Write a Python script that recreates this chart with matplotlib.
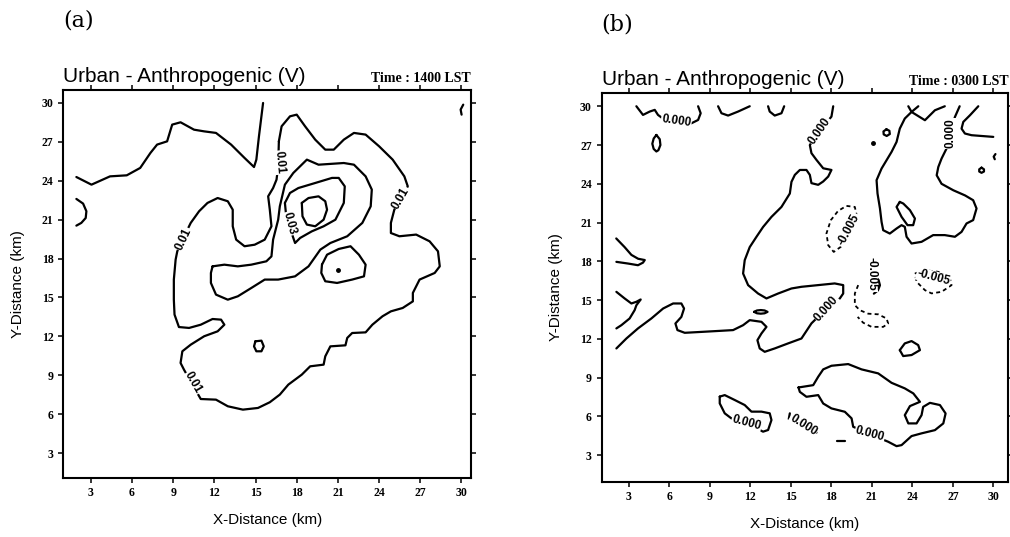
import matplotlib.pyplot as plt

# ------------------------------------------------------------------
# (a) Urban - Anthropogenic (V), Time 1400 LST
# contour traces (x km, y km)
# ------------------------------------------------------------------
a_nw_line = [(1.95, 24.29), (3.05, 23.70), (4.40, 24.34), (5.62, 24.42), (6.60, 24.99),
             (7.34, 26.14), (7.83, 26.79), (8.56, 27.04), (8.93, 28.33), (9.54, 28.51),
             (10.52, 27.94), (11.26, 27.81), (12.12, 27.69), (13.22, 26.79), (14.20, 25.76),
             (14.89, 25.06), (15.06, 25.63), (15.25, 27.43), (15.55, 30.0)]
a_west_arc = [(1.95, 22.60), (2.44, 22.24), (2.68, 21.65), (2.63, 21.13), (2.31, 20.75),
              (1.95, 20.54)]
a_outer_01 = [(16.70, 27.04), (16.90, 28.20), (17.51, 28.97), (18.00, 29.10), (18.61, 28.20),
              (19.35, 27.17), (20.08, 26.40), (20.70, 26.40), (21.43, 27.17), (22.17, 27.69),
              (23.02, 27.56), (24.00, 26.66), (24.99, 25.63), (25.84, 24.34), (26.09, 23.57),
              (25.11, 21.77), (24.86, 20.75), (24.86, 19.97), (25.48, 19.72), (26.70, 19.85),
              (27.68, 19.33), (28.29, 18.56), (28.42, 17.40), (28.05, 16.89), (26.95, 16.38),
              (26.46, 15.35), (26.46, 14.70), (25.72, 14.19), (24.86, 13.93), (24.25, 13.55),
              (23.51, 12.90), (23.02, 12.31), (22.04, 12.26), (21.68, 11.88), (21.55, 11.31),
              (20.45, 11.23), (20.08, 10.46), (19.96, 9.82), (18.98, 9.69), (18.37, 9.05),
              (17.39, 8.28), (16.77, 7.51), (16.04, 6.92), (15.18, 6.48), (14.08, 6.35),
              (12.98, 6.61), (12.12, 7.12), (11.01, 7.17), (10.40, 8.28), (9.79, 9.43),
              (9.54, 9.95), (9.67, 10.85), (10.28, 11.36), (11.26, 12.01), (12.24, 12.39),
              (12.73, 12.90), (12.49, 13.29), (11.87, 13.34), (11.01, 12.90), (10.16, 12.65),
              (9.42, 12.72), (9.10, 13.68), (9.05, 14.83), (9.05, 16.38), (9.18, 17.92),
              (9.30, 18.56), (9.74, 19.59), (10.28, 20.75), (10.89, 21.65), (11.50, 22.29),
              (12.24, 22.67), (12.98, 22.42), (13.34, 21.77), (13.34, 20.49), (13.59, 19.46),
              (14.20, 18.95), (14.94, 19.07), (15.67, 19.46), (16.16, 20.49), (16.04, 21.77),
              (15.92, 22.80), (16.28, 23.44), (16.53, 24.09), (16.65, 25.12)]
a_mid_02 = [(11.87, 17.40), (12.73, 17.53), (13.71, 17.40), (14.69, 17.53), (15.79, 17.79),
            (16.16, 18.17), (16.28, 19.46), (16.65, 21.00), (16.77, 22.03), (17.14, 23.70),
            (17.75, 24.60), (18.74, 25.63), (19.59, 25.24), (21.43, 25.37), (22.17, 25.24),
            (23.02, 24.34), (23.47, 23.32), (23.39, 22.03), (22.78, 20.75), (21.68, 19.72),
            (20.45, 19.20), (19.72, 18.69), (18.86, 17.40), (17.88, 16.63), (16.65, 16.38),
            (15.67, 16.38), (14.69, 15.73), (13.71, 15.09), (12.98, 14.83), (12.12, 15.22),
            (11.75, 16.12), (11.75, 16.89)]
a_inner_03 = [(17.14, 22.29), (17.51, 23.06), (18.12, 23.44), (19.35, 23.83), (20.57, 24.22),
              (21.06, 24.22), (21.50, 23.57), (21.43, 22.29), (20.82, 21.00), (19.96, 20.49),
              (19.10, 20.10), (18.25, 19.59), (17.88, 19.20), (17.63, 19.97), (17.26, 21.00)]
a_core_04 = [(18.37, 22.29), (18.86, 22.67), (19.59, 22.80), (20.08, 22.42), (20.21, 21.77),
             (19.96, 21.00), (19.35, 20.49), (18.74, 20.62), (18.42, 21.26)]
a_east_cell = [(19.84, 17.53), (20.21, 18.30), (21.06, 18.74), (21.92, 18.95), (22.53, 18.30),
               (23.02, 17.53), (22.90, 16.63), (22.04, 16.38), (20.94, 16.12), (20.08, 16.25),
               (19.79, 16.89)]
a_small_ring = [(14.99, 11.62), (15.43, 11.67), (15.60, 11.23), (15.43, 10.85), (15.06, 10.85),
                (14.89, 11.23)]
a_corner_arc = [(30.13, 29.87), (29.94, 29.49), (30.01, 29.10)]
a_dots = [(21.01, 17.15)]

a_labels = ['0.01', '0.01', '0.01', '0.01', '0.03']
a_label_x = [16.72, 25.60, 9.74, 10.45, 17.50]
a_label_y = [25.40, 22.67, 19.51, 8.41, 20.70]
a_label_rot = [-85, 60, 65, -60, -75]

# ------------------------------------------------------------------
# (b) Urban - Anthropogenic (V), Time 0300 LST
# ------------------------------------------------------------------
b_nw_wiggle = [(3.57, 30.0), (4.06, 29.33), (4.56, 29.59), (4.93, 29.72), (5.17, 29.33),
               (5.60, 29.00), (6.53, 28.87), (7.64, 28.68), (8.14, 28.94), (8.33, 29.46),
               (8.14, 30.0)]
b_leaf = [(5.05, 27.78), (5.30, 27.45), (5.35, 27.00), (5.20, 26.60), (5.05, 26.50),
          (4.85, 26.70), (4.75, 27.10), (4.85, 27.50)]
b_top_arc1 = [(9.62, 30.0), (9.87, 29.46), (10.36, 29.28), (11.10, 29.59), (11.96, 30.0)]
b_top_arc2 = [(13.32, 30.0), (13.44, 29.59), (13.81, 29.28), (14.31, 29.46), (14.51, 30.0)]
b_main_zero = [(18.14, 30.0), (18.01, 29.20), (17.15, 28.09), (16.41, 27.00), (16.53, 26.37),
               (16.90, 25.85), (17.40, 25.20), (18.01, 25.07), (17.77, 24.56), (17.40, 24.18),
               (17.03, 23.92), (16.53, 24.05), (16.41, 24.69), (16.16, 25.07), (15.67, 25.07),
               (15.30, 24.69), (15.05, 24.15), (14.93, 23.25), (14.31, 22.21), (13.57, 21.44),
               (12.95, 20.66), (12.46, 19.90), (11.96, 19.10), (11.59, 18.09), (11.47, 17.06),
               (11.84, 16.16), (12.58, 15.51), (13.20, 15.13), (14.06, 15.51), (15.05, 15.90),
               (15.79, 16.03), (17.02, 16.16), (18.25, 16.29), (18.88, 16.16), (18.88, 15.51),
               (18.63, 15.13), (17.64, 14.35), (16.53, 13.20), (15.79, 12.03), (14.80, 11.65),
               (13.81, 11.26), (13.07, 11.00), (12.70, 11.26), (12.53, 11.90), (12.83, 12.42),
               (13.20, 12.93), (12.83, 13.32), (11.96, 13.45), (11.47, 13.06), (10.73, 12.68),
               (9.74, 12.62), (8.38, 12.54), (7.15, 12.47), (6.61, 12.68), (6.46, 13.19),
               (6.90, 13.70), (7.10, 14.35), (6.90, 14.74), (6.29, 14.74), (5.55, 14.35),
               (4.68, 13.58), (3.69, 12.81), (2.83, 12.03), (2.09, 11.26)]
b_west_hook = [(2.08, 19.77), (2.70, 19.10), (3.20, 18.50), (3.70, 18.20), (4.19, 18.10),
               (4.06, 17.90), (3.69, 17.70), (2.95, 17.83), (2.09, 17.96)]
b_west_kink = [(2.09, 15.64), (2.70, 15.13), (3.20, 14.74), (3.57, 14.87), (3.89, 15.05),
               (3.57, 14.60), (3.44, 14.22), (3.07, 13.58), (2.46, 13.06), (2.09, 12.81)]
b_flat_ring = [(12.28, 14.09), (12.50, 14.20), (12.78, 14.23), (13.06, 14.20), (13.28, 14.09),
               (13.06, 13.98), (12.78, 13.95), (12.50, 13.98)]
b_neg_mid = [(19.32, 20.46), (19.86, 21.65), (19.74, 22.21), (19.12, 22.29), (18.50, 21.90),
             (17.96, 21.18), (17.64, 20.16), (17.77, 19.25), (18.18, 18.73), (18.70, 19.12)]
b_neg_east = [(24.19, 17.06), (24.93, 17.32), (25.91, 17.19), (26.78, 16.68), (26.90, 16.16),
              (26.16, 15.64), (25.42, 15.52), (24.93, 15.77), (24.31, 16.42)]
b_neg_south = [(19.99, 16.16), (19.74, 15.51), (19.74, 14.61), (20.11, 14.22), (20.73, 13.95),
               (21.47, 13.90), (22.09, 13.58), (22.21, 13.19), (21.84, 12.93), (20.98, 12.93),
               (20.36, 13.25), (19.95, 13.70)]
b_tiny_arc = [(21.20, 16.90), (21.50, 16.55), (21.60, 16.15), (21.45, 15.75), (21.15, 15.50)]
b_east_zero = [(27.50, 30.0), (27.15, 29.17), (26.80, 28.00), (26.53, 26.73), (26.16, 25.95),
               (25.92, 25.30), (25.80, 24.66), (26.16, 24.00), (27.03, 23.50), (27.90, 23.10),
               (28.50, 22.73), (28.75, 22.09), (28.50, 21.19), (28.01, 20.93), (27.64, 20.28),
               (27.15, 19.90), (26.40, 20.03), (25.54, 20.03), (24.68, 19.51), (23.94, 19.38),
               (23.57, 19.90), (23.44, 20.67), (23.20, 20.80), (22.83, 20.54), (22.33, 20.15),
               (21.84, 20.41), (21.72, 21.05), (21.60, 22.10), (21.42, 23.25), (21.35, 24.28),
               (21.72, 25.18), (22.46, 26.47), (22.83, 27.24), (23.07, 28.27), (23.44, 29.05),
               (23.94, 29.56), (24.44, 30.0)]
b_top_v = [(23.70, 30.0), (23.94, 29.56), (24.93, 28.92), (25.67, 29.69), (26.40, 30.0)]
b_east_island = [(23.07, 22.60), (22.83, 22.21), (23.20, 21.44), (23.64, 20.80), (24.06, 20.80),
                 (24.19, 21.31), (23.82, 21.96), (23.33, 22.47)]
b_ne_arc = [(28.88, 30.0), (28.26, 29.30), (27.77, 28.79), (27.64, 28.27), (27.89, 27.89),
            (28.38, 27.76), (29.12, 27.70), (29.99, 27.63)]
b_ne_ring = [(29.12, 25.25), (29.30, 25.12), (29.30, 24.95), (29.12, 24.85), (28.95, 24.95),
             (28.95, 25.12)]
b_edge_arc = [(30.15, 26.30), (30.02, 26.10), (30.10, 25.90)]
b_n_ring = [(22.08, 28.22), (22.30, 28.10), (22.33, 27.85), (22.10, 27.70), (21.88, 27.82),
            (21.86, 28.05)]
b_se_ring = [(23.07, 11.13), (23.44, 11.65), (23.94, 11.83), (24.43, 11.52), (24.56, 11.13),
             (23.94, 10.75), (23.32, 10.67)]
b_south_zero = [(15.57, 8.24), (16.66, 8.42), (17.03, 9.07), (17.40, 9.64), (18.01, 9.92),
                (19.25, 10.05), (20.24, 9.64), (21.47, 9.33), (22.46, 8.60), (23.44, 8.17),
                (24.07, 7.78), (24.56, 7.13), (23.82, 6.80), (23.44, 6.10), (23.70, 5.46),
                (24.31, 5.46), (24.68, 6.10), (24.80, 6.74), (25.30, 7.05), (26.04, 6.88),
                (26.46, 6.23), (26.29, 5.46), (25.67, 4.94), (24.68, 4.69), (23.94, 4.48),
                (23.20, 3.78), (22.83, 3.70), (22.21, 4.04), (20.85, 4.63), (19.62, 5.20),
                (19.50, 5.85), (19.00, 6.36), (18.01, 6.62), (17.40, 7.00), (17.03, 7.65),
                (16.16, 7.52), (15.67, 7.90)]
b_sw_zero = [(9.74, 7.53), (10.11, 7.65), (10.85, 7.27), (11.59, 6.88), (12.09, 6.37),
             (12.83, 6.37), (13.44, 6.24), (13.57, 5.72), (13.32, 4.95), (12.95, 4.82),
             (11.72, 5.46), (10.60, 5.85), (10.11, 6.24), (9.74, 7.01)]
b_hook_zero = [(14.93, 6.24), (14.85, 5.80), (15.40, 5.55), (15.92, 5.33), (16.50, 5.00),
               (16.90, 4.75)]
b_dash = [(18.40, 4.12), (19.00, 4.12)]
b_dots = [(21.10, 27.14)]

b_labels = ['0.000', '0.000', '0.000', '0.000', '0.000', '0.000', '0.000',
            '-0.005', '-0.005', '-0.005']
b_label_x = [6.53, 17.15, 17.64, 26.80, 11.72, 15.92, 20.85, 19.32, 25.55, 20.95]
b_label_y = [28.87, 28.09, 14.35, 27.90, 5.46, 5.33, 4.63, 20.46, 16.75, 17.00]
b_label_rot = [-8, 55, 48, 90, -15, -32, -15, 62, -15, -90]

# (line, closed, dashed)
a_lines = [(a_nw_line, False, False), (a_west_arc, False, False), (a_outer_01, True, False),
           (a_mid_02, True, False), (a_inner_03, True, False), (a_core_04, True, False),
           (a_east_cell, True, False), (a_small_ring, True, False), (a_corner_arc, False, False)]
b_lines = [(b_nw_wiggle, False, False), (b_leaf, True, False), (b_top_arc1, False, False),
           (b_top_arc2, False, False), (b_main_zero, False, False), (b_west_hook, False, False),
           (b_west_kink, False, False), (b_flat_ring, True, False), (b_neg_mid, True, True),
           (b_neg_east, True, True), (b_neg_south, False, True), (b_tiny_arc, False, False),
           (b_east_zero, False, False), (b_top_v, False, False), (b_east_island, True, False),
           (b_ne_arc, False, False), (b_ne_ring, True, False), (b_edge_arc, False, False),
           (b_n_ring, True, False), (b_se_ring, True, False), (b_south_zero, True, False),
           (b_sw_zero, True, False), (b_hook_zero, False, False), (b_dash, False, False)]

ticks = [3, 6, 9, 12, 15, 18, 21, 24, 27, 30]

SANS = 'Liberation Sans'
SERIF = 'Liberation Serif'


def draw_panel(ax, lines, dots, labels, lx, ly, lrot, time_text, letter, xlim, ylim):
    for pts, closed, dashed in lines:
        xs = [p[0] for p in pts]
        ys = [p[1] for p in pts]
        if closed:
            xs.append(xs[0])
            ys.append(ys[0])
        if dashed:
            ax.plot(xs, ys, color='black', lw=1.3, ls=(0, (2.2, 1.8)), zorder=2)
        else:
            ax.plot(xs, ys, color='black', lw=1.6, solid_joinstyle='round',
                    solid_capstyle='round', zorder=2)
    for x, y in dots:
        ax.plot(x, y, 'o', color='black', ms=2.5, zorder=2)

    for txt, x, y, r in zip(labels, lx, ly, lrot):
        ax.text(x, y, txt, rotation=r, rotation_mode='anchor', ha='center', va='center',
                fontsize=8.5, fontweight='bold', family=SANS, zorder=3,
                bbox=dict(boxstyle='square,pad=0.05', fc='white', ec='none'))

    ax.set_xlim(*xlim)
    ax.set_ylim(*ylim)
    ax.set_xticks(ticks)
    ax.set_yticks(ticks)
    ax.tick_params(direction='out', length=3.5, width=1.1, top=True, right=True,
                   labeltop=False, labelright=False, pad=3.5)
    for lab in ax.get_xticklabels() + ax.get_yticklabels():
        lab.set_family(SERIF)
        lab.set_fontweight('bold')
        lab.set_fontsize(8.5)
    for s in ax.spines.values():
        s.set_linewidth(1.5)

    ax.set_xlabel('X-Distance (km)', family=SANS, fontsize=11, labelpad=10)
    ax.set_ylabel('Y-Distance (km)', family=SANS, fontsize=11, labelpad=12)
    ax.text(0.0, 1.01, 'Urban - Anthropogenic (V)', transform=ax.transAxes,
            ha='left', va='bottom', family=SANS, fontsize=15)
    ax.text(1.0, 1.014, time_text, transform=ax.transAxes, ha='right', va='bottom',
            family=SERIF, fontweight='bold', fontsize=10)
    ax.text(0.0, 1.15, letter, transform=ax.transAxes, ha='left', va='bottom',
            family='DejaVu Serif', fontsize=16)


fig = plt.figure(figsize=(10.10, 5.37), dpi=100)
ax_a = fig.add_axes([0.0627, 0.1104, 0.4037, 0.7220])
ax_b = fig.add_axes([0.5957, 0.1030, 0.4026, 0.7232])

draw_panel(ax_a, a_lines, a_dots, a_labels, a_label_x, a_label_y, a_label_rot,
           'Time : 1400 LST', '(a)', (1.0, 30.7), (1.1, 31.0))
draw_panel(ax_b, b_lines, b_dots, b_labels, b_label_x, b_label_y, b_label_rot,
           'Time : 0300 LST', '(b)', (1.0, 31.1), (0.95, 31.0))

fig.savefig('out.png', dpi=100)
